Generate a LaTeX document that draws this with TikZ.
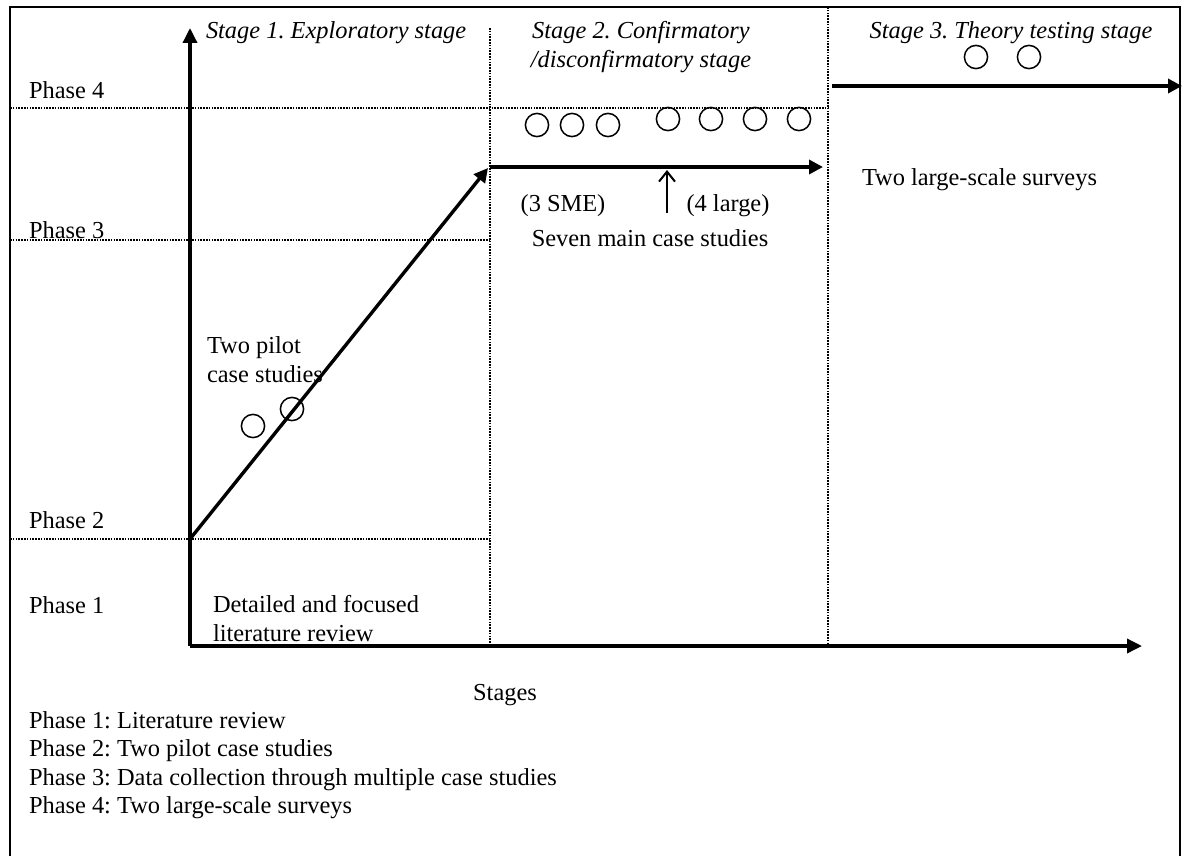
\documentclass[tikz,border=0pt]{standalone}
\usepackage{fontspec}
\setmainfont{Liberation Serif}
\usetikzlibrary{arrows.meta}
\begin{document}
\frenchspacing
\begin{tikzpicture}[x=0.5pt,y=-0.5pt,
  every node/.style={inner sep=0pt,outer sep=0pt,font=\fontsize{12.2}{14.5}\selectfont},
  frame/.style={line width=0.9pt},
  axis/.style={line width=1.7pt,-{Triangle[length=7.5pt,width=7pt]}},
  flow/.style={line width=1.7pt,-{Triangle[length=7pt,width=7pt]}},
  grid/.style={line width=1.1pt,dash pattern=on 0.8pt off 0.6pt},
  pointer/.style={line width=1pt,-{Straight Barb[length=5pt,width=8pt]}},
  case/.style={draw,circle,line width=0.75pt,minimum size=11.6pt},
  stagetitle/.style={font=\fontsize{12.2}{14.5}\selectfont\itshape},
  label/.style={anchor=base west,align=left}]
\useasboundingbox (0,0) rectangle (1188,856);

% outer frame, open at the bottom
\draw[frame] (10,856) -- (10,7) -- (1180,7) -- (1180,856);

% named points of the chart
\coordinate (O) at (190,646);
\coordinate (ytop) at (190,28);
\coordinate (xend) at (1142,646);
\coordinate (p2) at (190,539);
\coordinate (p3a) at (490,167);
\coordinate (p3b) at (823,167);
\coordinate (p4a) at (832,86);
\coordinate (p4b) at (1182,86);
\coordinate (ptrlow) at (667,213);
\coordinate (ptrhigh) at (667,170);

% phase and stage grid
\coordinate (g4l) at (10,108);  \coordinate (g4r) at (828,108);
\coordinate (g3l) at (10,240);  \coordinate (g3r) at (490,240);
\coordinate (g2l) at (10,539);  \coordinate (g2r) at (490,539);
\coordinate (d1t) at (490,28);  \coordinate (d1b) at (490,646);
\coordinate (d2t) at (828,7);   \coordinate (d2b) at (828,646);
\draw[grid] (g4l) -- (g4r);
\draw[grid] (g3l) -- (g3r);
\draw[grid] (g2l) -- (g2r);
\draw[grid] (d1t) -- (d1b);
\draw[grid] (d2t) -- (d2b);

% axes
\draw[axis] (O) -- (ytop);
\draw[axis] (O) -- (xend);

% progression through the phases
\draw[flow] (p2) -- (488,168);
\draw[flow] (p3a) -- (p3b);
\draw[flow] (p4a) -- (p4b);
\draw[pointer] (ptrlow) -- (ptrhigh);

% stage titles
\node[stagetitle,anchor=west] (s1) at (206,33) {Stage 1. Exploratory stage};
\node[stagetitle,align=center] (s2) at (641,47) {Stage 2. Confirmatory\\/disconfirmatory stage};
\node[stagetitle] (s3) at (1011,33) {Stage 3. Theory testing stage};

% phase labels on the left
\node[label] (ph4) at (29,98) {Phase 4};
\node[label] (ph3) at (29,238) {Phase 3};
\node[label] (ph2) at (29,528) {Phase 2};
\node[label] (ph1) at (29,613) {Phase 1};

% activity texts (base anchor sits on the last line)
\node[label] (pilot) at (207,382) {Two pilot\\case studies};
\node[label] (lit) at (213,641) {Detailed and focused\\literature review};
\node[anchor=base] (sme) at (563,211) {(3 SME)};
\node[anchor=base] (large) at (728,211) {(4 large)};
\node[anchor=base] (seven) at (650,246) {Seven main case studies};
\node[label] (surveys) at (862,185) {Two large-scale surveys};
\node[anchor=base] (stages) at (505,700) {Stages};

% case study markers
\node[case] (c1) at (253,426) {};
\node[case] (c2) at (292,409) {};
\node[case] (m1) at (537,125) {};
\node[case] (m2) at (572,125) {};
\node[case] (m3) at (608,125) {};
\node[case] (m4) at (668,119) {};
\node[case] (m5) at (711,119) {};
\node[case] (m6) at (755,119) {};
\node[case] (m7) at (799,119) {};
\node[case] (v1) at (976,57) {};
\node[case] (v2) at (1029,57) {};

% legend
\node[label] (l1) at (29,728) {Phase 1: Literature review};
\node[label] (l2) at (29,756.5) {Phase 2: Two pilot case studies};
\node[label] (l3) at (29,785) {Phase 3: Data collection through multiple case studies};
\node[label] (l4) at (29,813.5) {Phase 4: Two large-scale surveys};
\end{tikzpicture}
\end{document}
